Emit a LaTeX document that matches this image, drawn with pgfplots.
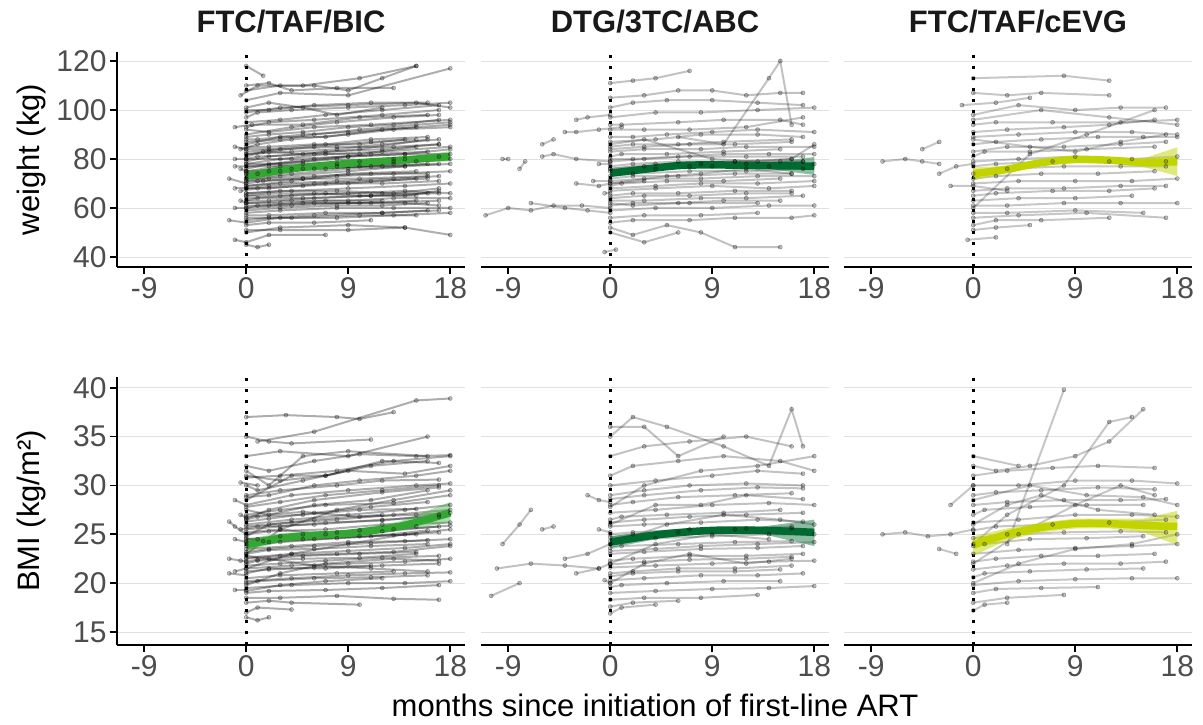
\documentclass[border=0pt]{standalone}
\usepackage{fontspec}
\setmainfont{Liberation Sans}
\usepackage{pgfplots}
\pgfplotsset{compat=1.18}
\definecolor{gA}{RGB}{52,166,52}
\definecolor{gB}{RGB}{0,106,48}
\definecolor{gC}{RGB}{194,212,0}
\definecolor{tickgray}{RGB}{77,77,77}
\newcommand{\traj}[1]{\addplot[traj] coordinates {#1};}
\pgfplotsset{
  panel/.style={
    scale only axis, width=348pt,
    axis x line*=bottom, axis y line*=left,
    axis line style={-, line width=1.6pt},
    xmin=-11.4, xmax=19.3, xtick={-9,0,9,18},
    tick align=outside, major tick length=7pt,
    tick style={black, line width=1.6pt},
    ymajorgrids, grid style={black!12, line width=0.9pt},
    ticklabel style={font=\fontsize{30}{30}\selectfont, text=tickgray},
    /pgf/number format/assume math mode=true,
    title style={font=\bfseries\fontsize{31}{31}\selectfont, text=black!90,
      at={(axis description cs:0.5,1)}, anchor=center, yshift=24pt},
    every axis y label/.style={font=\fontsize{31}{31}\selectfont,
      at={(axis description cs:-0.247,0.5)}, rotate=90, anchor=center},
    every axis x label/.style={font=\fontsize{31}{31}\selectfont,
      at={(axis description cs:0.5,0)}, anchor=center, yshift=-60pt},
  },
  inner/.style={y axis line style={draw=none}, yticklabels={}, ytick style={draw=none}},
  wt/.style={height=215pt, ymin=35.9, ymax=123.7, ytick={40,60,80,100,120}},
  bmi/.style={height=268pt, ymin=13.67, ymax=41.1, ytick={15,20,25,30,35,40}},
  trajop/.initial=0.22,
  traj/.style={draw=black, line width=2pt, draw opacity=\pgfkeysvalueof{/pgfplots/trajop},
    mark=*, mark size=2pt,
    mark options={draw=black, fill=black, draw opacity=0.35, fill opacity=0.22, line width=0.6pt}},
  vdot/.style={black, line width=2.6pt, dash pattern=on 2.6pt off 8.4pt},
  mean/.style={line width=7.5pt, smooth},
}
\begin{document}
\begin{tikzpicture}[x=1pt,y=1pt]
\path[use as bounding box] (0,0) rectangle (1203,725);

% ---------- weight, FTC/TAF/BIC
\begin{axis}[panel, wt, trajop=0.32, at={(117pt,458pt)}, anchor=south west,
  title={FTC/TAF/BIC}, ylabel={weight (kg)}]
\traj{(0,118)(1.5,114)}
\traj{(0,110)(2,111)(4,108)(8,109)(13,109)}
\traj{(-0.5,106)(1,110)(5,110)(10,113)(15,118)}
\traj{(0,104)(3,107)(9,106)(18,117)}
\traj{(0,100)(2,100)(6,102)(11,103)(16,103)}
\traj{(0,97)(1,99)(4,100)(9,101)(14,102)(18,103)}
\traj{(0,95)(3,96)(7,98)(12,100)(17,102)}
\traj{(-1,93)(0.5,94)(5,94)(10,97)(16,98)}
\traj{(0,92)(2,91)(6,93)(11,94)(18,96)}
\traj{(0,90)(4,93)(8,95)(13,97)(17,98)}
\traj{(0,88)(1,88)(5,90)(9,91)(15,93)}
\traj{(0,86)(3,89)(7,89)(12,92)(18,94)}
\traj{(0,85)(2,85)(6,86)(10,86)(14,88)}
\traj{(-0.5,84)(1,86)(4,88)(9,90)(13,92)(18,93)}
\traj{(0,83)(3,84)(8,85)(13,85)(17,86)}
\traj{(0,82)(2,83)(5,82)(10,84)(16,88)}
\traj{(0,81)(1.5,83)(6,85)(11,87)(15,88)}
\traj{(0,80)(4,80)(9,81)(14,82)(18,84)}
\traj{(0,79)(2,81)(7,83)(12,84)(17,86)}
\traj{(0,78)(3,78)(8,80)(13,79)}
\traj{(-1,77)(0,77)(5,79)(9,81)(14,82)(18,82)}
\traj{(0,76)(2,78)(6,80)(11,82)(16,83)}
\traj{(0,75)(4,76)(8,77)(12,77)(17,78)}
\traj{(0,74)(1,74)(5,76)(10,77)(15,79)}
\traj{(0,73)(3,75)(7,76)(13,78)(18,80)}
\traj{(0,72)(2,72)(6,73)(11,74)(16,74)}
\traj{(0,71)(3,73)(9,75)(14,77)}
\traj{(0,70)(1.5,71)(5,72)(10,72)(16,73)}
\traj{(0,69)(4,71)(8,73)(13,74)(18,75)}
\traj{(0,68)(2,68)(7,70)(12,70)(17,71)}
\traj{(-0.5,67)(1,68)(5,69)(9,70)(15,72)}
\traj{(0,66)(3,67)(8,67)(13,66)(17,68)}
\traj{(0,65)(2,66)(6,66)(10,65)(14,65)(17,67)}
\traj{(0,64)(4,65)(9,66)(14,67)(18,66)}
\traj{(0,63)(1,64)(5,64)(11,65)(16,66)}
\traj{(0,62)(3,62)(7,63)(12,63)}
\traj{(0,61)(2,61)(6,62)(11,62)(17,63)}
\traj{(-1,60)(0,60)(4,61)(9,62)(15,63)}
\traj{(0,58)(3,59)(8,60)(13,60)(18,60)}
\traj{(0,57)(2,57)(7,58)(12,58)(16,59)}
\traj{(0,56)(4,56)(10,57)(15,57)}
\traj{(-1.5,55)(0,54)(3,56)(8,56)(13,57)(18,58)}
\traj{(0,53)(2,54)(6,54)(11,55)}
\traj{(0,51)(3,51)(9,51)(14,52)(18,49)}
\traj{(-1,47)(0,46)(2,49)(7,49)}
\traj{(0,45)(1,44)(2,45)}
\traj{(0,50)(3,52)(9,53)(14,52)}
\traj{(-1.5,72)(0,70)}
\traj{(-1,85)(0,84)}
\traj{(0,108)(3,110)(6,110)(9,108)(12,113)(15,118)}
\traj{(0,101)(2,103)(5,101)(8,98)(12,101)}
\traj{(0,89)(2,90)(5,91)(9,93)(13,94)(17,96)}
\traj{(0,87)(3,88)(6,90)(10,92)(15,94)(18,95)}
\traj{(0,84)(2,84)(7,86)(11,88)(16,89)}
\traj{(0,82)(4,83)(8,84)(12,86)(17,88)}
\traj{(0,80)(1,81)(6,82)(10,82)(15,85)}
\traj{(0,78)(3,80)(7,82)(12,83)(18,85)}
\traj{(0,77)(2,77)(5,78)(10,79)(14,80)}
\traj{(0,75)(3,77)(8,78)(13,80)(17,81)}
\traj{(0,74)(2,75)(6,76)(11,77)(16,78)}
\traj{(0,72)(4,74)(9,76)(14,77)(18,78)}
\traj{(0,71)(1,71)(5,72)(9,74)(15,75)}
\traj{(0,69)(3,70)(8,71)(13,72)(17,73)}
\traj{(0,68)(2,69)(6,70)(11,71)(16,72)}
\traj{(0,66)(4,67)(9,68)(14,69)(18,70)}
\traj{(0,65)(3,65)(7,66)(12,66)(17,66)}
\traj{(0,63)(2,63)(6,64)(11,65)(15,65)}
\traj{(0,62)(4,63)(9,63)(13,64)(18,64)}
\traj{(0,60)(1,61)(5,62)(10,62)(14,62)(17,61)}
\traj{(0,59)(3,60)(8,61)(12,61)(16,62)}
\traj{(-0.5,76)(0,75)}
\traj{(-1,68)(0,68)}
\traj{(-0.5,63)(0,62)}
\traj{(-1,80)(0,80)}
\traj{(0,93)(2,95)(6,96)(12,98)(17,100)}
\traj{(0,99)(3,101)(9,102)(15,103)(18,101)}
\traj{(0,55)(2,56)(6,57)(12,58)(17,59)}
\addplot[vdot] coordinates {(0,35.9)(0,123.7)};
\addplot[fill=gA, fill opacity=0.4, draw=none] coordinates {(0,72)(4.5,75.6)(9,77.6)(13.5,78.7)(18,79)(18,83.2)(13.5,80.3)(9,78.8)(4.5,77)(0,74.2)} -- cycle;
\addplot[gA, mean] coordinates {(0,73)(2,74.6)(4.5,76.3)(9,78.2)(13.5,79.5)(18,81)};
\end{axis}

% ---------- weight, DTG/3TC/ABC
\begin{axis}[panel, wt, inner, trajop=0.24, at={(481pt,458pt)}, anchor=south west,
  title={DTG/3TC/ABC}]
\traj{(-11,57)(-9,60)(-7,59)(-5,61)(-2.5,61)(0,60)}
\traj{(-8,76)(-7.5,79)}
\traj{(-9.5,80)(-9,80)}
\traj{(-6,81)(-5,82)(-3,80)(0,79)}
\traj{(-6,86)(-5,88)}
\traj{(-4,91)(-3,91)(-1,92)(1,93)}
\traj{(-3,96)(-2,97)(0,98)}
\traj{(-7,62)(-4,60)(-2,59)(0,58)}
\traj{(-3,70)(-1,69)(0,70)(3,71)}
\traj{(0,111)(2,112)(4,113)(7,116)}
\traj{(0,105)(3,106)(6,108)(9,108)(12,106)(15,107)(17,107)}
\traj{(0,101)(2,103)(5,104)(9,104)(13,103)(17,102)}
\traj{(0,97)(4,99)(8,99)(13,100)(18,101)}
\traj{(0,94)(1,94)(6,95)(10,96)(15,96)(17,94)}
\traj{(0,92)(3,92)(7,92)(12,93)(17,97)}
\traj{(0,89)(2,89)(5,90)(9,91)(13,92)(18,91)}
\traj{(0,87)(4,88)(8,90)(13,90)(17,89)}
\traj{(0,85)(2,86)(6,86)(10,87)(16,88)}
\traj{(0,83)(3,84)(8,84)(12,85)(18,85)}
\traj{(0,81)(1,82)(5,82)(10,83)(15,84)}
\traj{(0,79)(3,80)(7,81)(12,81)(17,81)}
\traj{(0,77)(2,78)(6,79)(11,79)(16,80)}
\traj{(0,75)(4,76)(9,77)(14,77)(18,78)}
\traj{(0,73)(2,74)(7,75)(12,75)(17,76)}
\traj{(0,71)(3,72)(8,72)(13,73)(18,73)}
\traj{(0,69)(1,70)(5,71)(10,71)(15,72)}
\traj{(0,67)(4,68)(9,69)(14,68)(18,69)}
\traj{(0,65)(2,66)(6,66)(11,67)(16,67)}
\traj{(0,63)(3,63)(8,64)(12,64)(17,65)}
\traj{(0,61)(2,62)(7,62)(13,62)}
\traj{(0,59)(4,60)(9,60)(14,61)(18,61)}
\traj{(0,56)(3,57)(8,57)(13,58)}
\traj{(0,54)(2,55)(7,55)(11,56)(16,56)(18,57)}
\traj{(0,52)(2,49)(5,53)(8,50)(11,44)(15,44)}
\traj{(-0.5,42)(0.5,43)}
\traj{(0,50)(3,46)(6,50)}
\traj{(6,89)(10,86)(14,113)(15,120)(16,94)}
\traj{(0,86)(3,88)(9,80)(13,79)(16,80)(18,86)}
\traj{(0,76)(4,78)(7,77)(11,79)(15,79)(17,79)}
\traj{(0,70)(5,73)(8,74)(12,76)(16,74)}
\traj{(0,84)(3,85)(7,86)(11,86)(16,87)}
\traj{(0,80)(2,80)(6,81)(10,82)(14,82)(18,82)}
\traj{(0,76)(3,77)(8,78)(12,78)(17,79)}
\traj{(0,72)(2,73)(6,73)(11,74)(16,74)}
\traj{(0,68)(4,69)(8,70)(13,70)(18,71)}
\traj{(0,64)(3,65)(7,65)(12,66)(16,66)}
\traj{(0,62)(2,61)(6,62)(10,63)(15,63)}
\traj{(-1,78)(0,78)}
\traj{(-0.5,66)(0,66)}
\traj{(-1.5,71)(0,71)}
\addplot[vdot] coordinates {(0,35.9)(0,123.7)};
\addplot[fill=gB, fill opacity=0.45, draw=none] coordinates {(0,72.8)(3,74.9)(6,76.4)(9,76.7)(13.5,76.2)(18,73.5)(18,80.8)(13.5,78.4)(9,78.5)(6,78.2)(3,76.7)(0,75.6)} -- cycle;
\addplot[gB, mean] coordinates {(0,74.2)(3,75.8)(6,77.3)(9,77.6)(13.5,77.3)(18,77.1)};
\end{axis}

% ---------- weight, FTC/TAF/cEVG
\begin{axis}[panel, wt, inner, trajop=0.22, at={(844pt,458pt)}, anchor=south west,
  title={FTC/TAF/cEVG}]
\traj{(-8,79)(-6,80)(-4.5,79)(-3,78)}
\traj{(-4.5,84)(-3,87)}
\traj{(-3,74)(-1.5,77)(0,78)}
\traj{(0,113)(8,114)(12,112)}
\traj{(-1,102)(2,103)(5,105)}
\traj{(0,107)(3,106)(6,107)(12,106)}
\traj{(0,98)(4,102)(9,100)(13,101)(17,101)}
\traj{(0,94)(2,95)(7,95)(13,95)(18,96)}
\traj{(0,91)(3,92)(8,93)(12,94)(16,96)}
\traj{(0,89)(4,90)(9,91)(14,91)(18,90)}
\traj{(0,86)(2,87)(6,88)(11,89)(15,89)(18,89)}
\traj{(0,83)(3,85)(8,85)(13,86)(17,87)}
\traj{(0,81)(1,83)(5,83)(10,84)(16,85)}
\traj{(0,79)(4,80)(9,81)(14,80)(18,81)}
\traj{(0,77)(2,78)(7,79)(12,79)(17,79)}
\traj{(0,74)(3,76)(8,77)(13,77)(17,77)}
\traj{(0,72)(2,73)(6,74)(11,74)(16,75)}
\traj{(0,70)(4,71)(9,71)(14,71)(18,72)}
\traj{(0,67)(3,68)(8,68)(13,69)(17,69)}
\traj{(0,65)(2,66)(7,67)(12,67)(16,68)}
\traj{(0,63)(4,64)(9,64)(14,65)}
\traj{(0,61)(3,61)(8,62)(13,62)(18,62)}
\traj{(0,58)(3,58)(9,59)(15,58)}
\traj{(0,56)(4,57)(10,58)(17,56)}
\traj{(0,53)(2,55)(6,55)(12,56)}
\traj{(0,51)(2,52)(5,53)}
\traj{(-0.5,47)(2,48)}
\traj{(0,60)(5,82)(10,90)(16,100)}
\traj{(0,96)(6,100)(12,97)(18,94)}
\traj{(-2,69)(0,69)(3,67)}
\traj{(0,88)(5,85)(9,83)(13,87)(17,90)}
\addplot[vdot] coordinates {(0,35.9)(0,123.7)};
\addplot[fill=gC, fill opacity=0.5, draw=none] coordinates {(0,71.2)(3,74.3)(6,77.3)(9,78.6)(12,78.2)(15,76.8)(18,73)(18,84.8)(15,80.2)(12,80.8)(9,81)(6,79.7)(3,77.3)(0,76.5)} -- cycle;
\addplot[gC, mean] coordinates {(0,74)(3,75.8)(6,78.5)(9,79.8)(12,79.5)(15,78.6)(18,78.9)};
\end{axis}

% ---------- BMI, FTC/TAF/BIC
\begin{axis}[panel, bmi, trajop=0.32, at={(117pt,80pt)}, anchor=south west,
  ylabel={BMI (kg/m²)}]
\traj{(0,37)(3.5,37.2)(8,37)(10,36.8)(13,37.5)}
\traj{(1,34.5)(6,35.5)(15,38.7)(18,38.9)}
\traj{(0,35)(2,34.5)(4,34.3)(11,34.7)}
\traj{(0,33)(3,33.5)(9,33)(16,35)}
\traj{(0,32)(2,31.5)(6,32.5)(10,33.2)(15,33)(18,33.1)}
\traj{(0,31)(3,30.5)(7,31)(12,32.5)(17,32.3)}
\traj{(0,30)(1,29.5)(5,30.5)(9,31.5)(14,31.2)(18,32)}
\traj{(0,29)(3,29.5)(8,30)(12,30.5)(17,30.6)}
\traj{(-1,28.5)(0,28)(4,29)(9,29.5)(15,30)(18,30.2)}
\traj{(0,27.5)(2,27)(6,28)(11,28.5)(16,29.5)}
\traj{(0,27)(3,27.5)(7,28)(13,28.2)(18,29)}
\traj{(0,26.5)(1,26.8)(5,27)(10,27.5)(15,27.6)}
\traj{(0,26)(4,26.5)(9,27)(14,27.5)(18,28)}
\traj{(-0.5,25.5)(1,25.8)(6,26)(12,26.5)(17,26.8)}
\traj{(0,25)(2,25.3)(7,25.5)(12,26)(18,26.2)}
\traj{(0,24.5)(3,24.8)(8,25.2)(13,25.5)(17,25.8)}
\traj{(0,24)(1.5,24.3)(5,24.5)(10,24.8)(15,25)}
\traj{(0,23.5)(4,23.8)(9,24.2)(14,24.3)(18,24.5)}
\traj{(0,23)(2,23.4)(6,23.5)(11,23.8)(16,24)}
\traj{(0,22.5)(3,22.8)(8,23)(13,23.2)(18,23.8)}
\traj{(0,22)(1,22.3)(5,22.5)(10,22.6)(15,23)}
\traj{(-1,21.2)(0,21.5)(4,21.8)(9,22)(14,22.2)(18,22.5)}
\traj{(0,21)(2,21.5)(7,21.5)(12,21.8)(17,22)}
\traj{(0,20.5)(3,20.8)(8,21)(13,21.2)}
\traj{(0,20)(1,20.2)(6,20.5)(11,20.6)(16,20.8)}
\traj{(0,19.5)(4,19.8)(9,20)(14,20)(18,20.2)}
\traj{(0,19)(2,19.2)(7,19.3)(12,19.5)(17,19.8)}
\traj{(0,18.5)(3,18.5)(8,18.7)(13,18.4)(17,18.3)}
\traj{(0,18)(2,18.2)(4,18)(10,17.8)}
\traj{(0,17)(1,17.5)(4,17.3)}
\traj{(0,16.5)(1,16.2)(2,16.5)}
\traj{(-1.5,26.3)(-1,25.8)(0,25)}
\traj{(-1.5,21)(0,20.8)}
\traj{(-1,19.3)(0,19.3)}
\traj{(0,31.5)(2,30)(5,33)(9,33.5)(16,33)}
\traj{(0,28.5)(4,31)(7,31)(11,32)(16,32.5)}
\traj{(0,23)(3,25.5)(8,27.5)(13,28.5)(18,29.5)}
\traj{(0,21.5)(4,23)(9,24)(14,25)(18,25.5)}
\traj{(0,24.8)(2,26)(6,26.5)(12,27)}
\traj{(0,26.8)(5,27.3)(10,26.8)(15,27)(18,27.2)}
\traj{(0,19.8)(3,21)(7,22)(13,22.5)(17,22.3)}
\traj{(0,22.8)(2,22.5)(6,21.8)(11,21.5)(16,21.2)}
\traj{(-0.5,30.3)(1,30)}
\traj{(0,25.2)(3,25.5)(7,25)(12,25.3)(18,25.9)}
\traj{(0,28.8)(2,29)(6,30)(10,30.5)(15,31)(18,31.5)}
\traj{(0,27.8)(3,28.3)(7,29)(12,29.5)(17,30)}
\traj{(0,26.3)(2,26.6)(6,27.2)(11,27.8)(16,28.3)}
\traj{(0,25.8)(4,26.2)(8,26.5)(13,27)(18,27.5)}
\traj{(0,24.3)(1,24.5)(5,25)(10,25.4)(15,25.8)}
\traj{(0,23.8)(3,24.2)(8,24.6)(13,24.9)(17,25.2)}
\traj{(0,23.2)(2,23.5)(6,23.8)(11,24.1)(16,24.4)}
\traj{(0,22.6)(4,23)(9,23.3)(14,23.6)(18,24)}
\traj{(0,22.2)(1,22.4)(5,22.8)(10,23)(15,23.2)}
\traj{(0,21.8)(3,22)(7,22.3)(12,22.6)(17,22.8)}
\traj{(0,21.2)(2,21.4)(6,21.6)(11,21.8)}
\traj{(0,20.2)(4,20.5)(9,20.8)(14,21)(18,21.1)}
\traj{(-1,24.5)(0,24.2)}
\traj{(-1.5,22.5)(-0.5,22.3)(0,22.2)}
\traj{(-0.5,27)(0,26.7)}
\traj{(0,30.8)(3,31)(8,31.5)(13,32.5)(18,33)}
\traj{(0,26.6)(2,27.5)(6,28.5)(12,29.3)(17,29.8)}
\traj{(0,19.2)(3,19.8)(7,20.2)(12,20.5)}
\traj{(0,25.5)(3,25.8)(7,26.2)(12,26.4)(17,27)}
\traj{(0,24.6)(2,24.2)(6,24.5)(11,24.8)(16,25.4)}
\addplot[vdot] coordinates {(0,13.67)(0,41.1)};
\addplot[fill=gA, fill opacity=0.4, draw=none] coordinates {(0,23.3)(3,24.2)(6,24.6)(9,24.8)(13.5,25.4)(18,26.2)(18,28.3)(13.5,26.3)(9,25.4)(6,25.3)(3,25.1)(0,24.5)} -- cycle;
\addplot[gA, mean] coordinates {(0,23.9)(3,24.6)(6,24.9)(9,25.1)(13.5,25.8)(18,27.2)};
\end{axis}

% ---------- BMI, DTG/3TC/ABC
\begin{axis}[panel, bmi, inner, trajop=0.24, at={(481pt,80pt)}, anchor=south west,
  xlabel={months since initiation of first-line ART}]
\traj{(-10,21.5)(-7,22)(-4,21.8)(-1,21.5)}
\traj{(-10.5,18.7)(-8,20)}
\traj{(-9.5,24)(-8,26)(-7,27.5)}
\traj{(-6,25.5)(-5,25.8)}
\traj{(-4,22.5)(-2,23)(0,24)}
\traj{(-3,21)(-1,21.5)(0,22)}
\traj{(-2,29)(-1,28.5)(0,28.3)}
\traj{(0,35)(2,37)(5,36)(10,34)(14,32)(16,37.8)(17,34)}
\traj{(0,33)(3,34)(7,34.5)(12,35)(16,34)}
\traj{(0,31)(2,32)(6,32.5)(10,33)(15,32.5)(18,31.5)}
\traj{(0,30)(4,30.5)(9,31)(13,31.5)(17,31.2)}
\traj{(0,29)(3,29.5)(7,30)(12,30.2)(17,30)}
\traj{(0,28)(2,28.3)(6,28.8)(11,29)(16,29.2)}
\traj{(0,27.2)(4,27.5)(9,28)(14,28.2)(18,28)}
\traj{(0,26.5)(1,26.8)(5,27)(10,27.2)(15,27.5)}
\traj{(0,25.8)(3,26)(8,26.2)(13,26.5)(17,26.3)}
\traj{(0,25)(2,25.2)(7,25.5)(12,25.6)(16,25.8)}
\traj{(0,24.3)(4,24.6)(9,24.8)(14,25)(18,25)}
\traj{(0,23.6)(1,23.8)(6,24)(11,24.2)(16,24.3)}
\traj{(0,23)(3,23.2)(8,23.5)(13,23.6)(17,23.8)}
\traj{(0,22.3)(2,22.5)(7,22.8)(12,22.8)(17,23)}
\traj{(0,21.6)(4,21.8)(9,22)(14,22.2)(18,22.3)}
\traj{(0,21)(2,21.2)(6,21.5)(11,21.5)(16,21.8)}
\traj{(0,20.3)(3,20.5)(8,20.8)(13,20.8)(17,21)}
\traj{(0,19.6)(1,19.8)(5,20)(10,20.2)(15,20.2)}
\traj{(0,19)(4,19.2)(9,19.4)(14,19.5)(18,19.7)}
\traj{(0,18.3)(3,18.5)(8,18.5)(13,18.8)}
\traj{(0,17.6)(2,18)(6,18.2)}
\traj{(0,16.9)(1,17.5)(4,17.8)}
\traj{(0,27.8)(3,30)(8,31.5)(13,32)(18,33)}
\traj{(0,24)(5,26)(10,27)(15,26.5)(18,26)}
\traj{(0,22)(4,24)(9,25)(14,24.5)}
\traj{(0,20)(3,22)(7,23)(12,22)(16,22.5)}
\traj{(0,36)(3,36)(6,33)(10,35)}
\traj{(0,26)(4,28)(8,28)(12,29)(17,28.6)}
\traj{(0,26.2)(3,26.5)(7,26.8)(12,27)(17,27.2)}
\traj{(0,24.7)(2,25)(6,25.2)(11,25.5)(16,25.6)}
\traj{(0,23.3)(4,23.5)(8,23.8)(13,24)(18,24.2)}
\traj{(0,21.9)(3,22.2)(7,22.4)(12,22.5)(16,22.7)}
\traj{(0,20.7)(2,21)(6,21.2)(11,21.2)(15,21.4)}
\traj{(0,28.6)(3,29)(8,29.5)(13,29.8)(17,29.7)}
\traj{(-1,25.5)(0,25.2)}
\traj{(-0.5,20.3)(0,20)}
\addplot[vdot] coordinates {(0,13.67)(0,41.1)};
\addplot[fill=gB, fill opacity=0.45, draw=none] coordinates {(0,23.6)(4.5,24.6)(9,25.1)(13.5,25)(18,23.8)(18,26.5)(13.5,25.8)(9,25.7)(4.5,25.4)(0,24.8)} -- cycle;
\addplot[gB, mean] coordinates {(0,24.2)(4.5,25)(9,25.4)(13.5,25.4)(18,25.2)};
\end{axis}

% ---------- BMI, FTC/TAF/cEVG
\begin{axis}[panel, bmi, inner, trajop=0.22, at={(844pt,80pt)}, anchor=south west]
\traj{(-8,25)(-6,25.2)(-4,24.8)(-2,25)(0,25.5)}
\traj{(-3,23.5)(-1.5,23)}
\traj{(-2,28)(0,30)}
\traj{(0,32)(2,31.5)(5,32)(9,33)(12,34.5)(15,37.8)}
\traj{(0,31)(3,31.5)(7,31.8)(11,32)(16,31.8)}
\traj{(0,30)(4,30)(9,30.5)(14,30.5)(18,30.2)}
\traj{(0,29)(2,29.3)(6,29.5)(11,29.8)(16,29.6)}
\traj{(0,28)(3,28.3)(8,28.5)(13,28.5)(17,28.6)}
\traj{(0,27)(1,27.5)(5,27.8)(10,28)(15,28)}
\traj{(0,26.2)(4,26.5)(9,27)(14,27)(18,26.8)}
\traj{(0,25.4)(2,25.8)(7,26)(12,26.2)(17,26.5)}
\traj{(0,24.6)(3,25)(8,25.2)(13,25.3)(17,25.2)}
\traj{(0,23.8)(1,24)(5,24.5)(10,24.6)(15,24.8)}
\traj{(0,23)(4,23.4)(9,23.6)(14,23.8)(18,24)}
\traj{(0,22.2)(2,22.5)(6,22.8)(11,22.8)(16,23)}
\traj{(0,21.4)(3,21.8)(8,22)(13,22)(17,22.2)}
\traj{(0,20.6)(1,21)(5,21.2)(10,21.4)(15,21.5)}
\traj{(0,19.8)(4,20.2)(9,20.4)(14,20.5)(18,20.5)}
\traj{(0,19)(2,19.4)(6,19.5)(11,19.6)}
\traj{(0,18)(3,18.5)(8,18.8)}
\traj{(0,17.2)(1,17.8)(3,18)}
\traj{(0,24)(3,27)(8,30)(12,36.5)(14,37)}
\traj{(0,22)(4,25)(9,28)(13,30)(16,29)}
\traj{(0,28.5)(5,30)(10,29)(15,28.8)(18,28)}
\traj{(0,20)(4,22)(9,23.5)(14,24)(18,25)}
\traj{(0,26)(3,28)(6,29)(11,27.5)(16,27)}
\traj{(0,33)(4,32)}
\traj{(3,24)(8,39.8)}
\addplot[vdot] coordinates {(0,13.67)(0,41.1)};
\addplot[fill=gC, fill opacity=0.5, draw=none] coordinates {(0,22.8)(3,24.4)(6,25.2)(9,25.6)(12,25.6)(15,25.2)(18,23.9)(18,27.4)(15,26.6)(12,26.6)(9,26.6)(6,26.2)(3,25.6)(0,24.8)} -- cycle;
\addplot[gC, mean] coordinates {(0,23.9)(3,25)(6,25.7)(9,26.1)(12,26.1)(15,25.9)(18,25.8)};
\end{axis}
\end{tikzpicture}
\end{document}
